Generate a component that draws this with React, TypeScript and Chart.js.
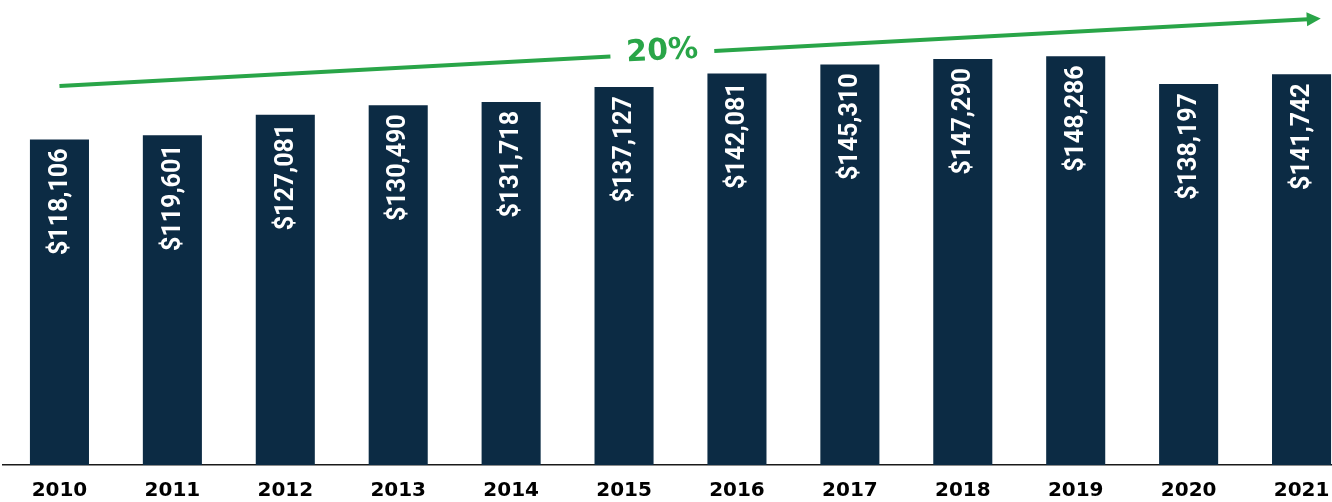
import React, { useEffect, useRef } from "react";
import { Chart, registerables } from "chart.js";

Chart.register(...registerables);

const categories = ["2010", "2011", "2012", "2013", "2014", "2015", "2016", "2017", "2018", "2019", "2020", "2021"];
const values = [118106, 119601, 127081, 130490, 131718, 137127, 142081, 145310, 147290, 148286, 138197, 141742];
const yTicks = [0, 160000];

// trend arrow, in data units: [category index, value]
const arrowStart = [0, 137500];
const arrowEnd = [11.17, 162000];
const arrowLabel = "20%";
const arrowLabelAt = 0.478;

const BAR = "#0c2b44";
const GREEN = "#29a548";
const LABEL_FONT = "bold 25px Roboto";
const AXIS_FONT_FAMILY = "'DejaVu Sans'";

const fmt = (v: number) => "$" + v.toLocaleString("en-US");

const valueLabels = {
  id: "valueLabels",
  afterDatasetsDraw(chart: any) {
    const ctx = chart.ctx;
    const meta = chart.getDatasetMeta(0);
    ctx.save();
    ctx.fillStyle = "#ffffff";
    ctx.font = LABEL_FONT;
    ctx.textAlign = "right";
    ctx.textBaseline = "middle";
    meta.data.forEach((bar: any, i: number) => {
      ctx.save();
      ctx.translate(bar.x + 1, bar.y + 9);
      ctx.rotate(-Math.PI / 2);
      ctx.fillText(fmt(values[i]), 0, 0);
      ctx.restore();
    });
    ctx.restore();
  },
};

const trendArrow = {
  id: "trendArrow",
  afterDatasetsDraw(chart: any) {
    const ctx = chart.ctx;
    const xs = chart.scales.x;
    const ys = chart.scales.y;
    const step = xs.getPixelForValue(1) - xs.getPixelForValue(0);
    const px = (idx: number) => xs.getPixelForValue(0) + idx * step;
    const x0 = px(arrowStart[0]);
    const y0 = ys.getPixelForValue(arrowStart[1]);
    const x1 = px(arrowEnd[0]);
    const y1 = ys.getPixelForValue(arrowEnd[1]);
    const ang = Math.atan2(y1 - y0, x1 - x0);
    const len = Math.hypot(x1 - x0, y1 - y0);
    const headLen = 14;
    const headHalf = 7;
    const labelPos = len * arrowLabelAt;
    const gapHalf = 52;

    ctx.save();
    ctx.translate(x0, y0);
    ctx.rotate(ang);
    ctx.strokeStyle = GREEN;
    ctx.fillStyle = GREEN;
    ctx.lineWidth = 4;
    ctx.beginPath();
    ctx.moveTo(0, 0);
    ctx.lineTo(labelPos - gapHalf, 0);
    ctx.moveTo(labelPos + gapHalf, 0);
    ctx.lineTo(len - headLen + 1, 0);
    ctx.stroke();
    ctx.beginPath();
    ctx.moveTo(len, 0);
    ctx.lineTo(len - headLen, -headHalf);
    ctx.lineTo(len - headLen, headHalf);
    ctx.closePath();
    ctx.fill();
    ctx.font = "bold 30px " + AXIS_FONT_FAMILY;
    ctx.textAlign = "center";
    ctx.textBaseline = "middle";
    ctx.fillText(arrowLabel, labelPos, -2);
    ctx.restore();
  },
};

export default function App() {
  const ref = useRef<HTMLCanvasElement | null>(null);
  useEffect(() => {
    if (!ref.current) return;
    const chart = new Chart(ref.current, {
      type: "bar",
      data: {
        labels: categories,
        datasets: [
          {
            data: values,
            backgroundColor: BAR,
            barPercentage: 0.523,
            categoryPercentage: 1,
          },
        ],
      },
      options: {
        animation: false,
        responsive: false,
        layout: { padding: { left: 3, right: 0, top: 24, bottom: 0 } },
        plugins: { legend: { display: false }, tooltip: { enabled: false } },
        scales: {
          x: {
            offset: true,
            grid: { display: false, drawTicks: false },
            border: { display: true, color: "#1a1a1a", width: 1.5 },
            ticks: {
              color: "#000000",
              padding: 14,
              font: { family: AXIS_FONT_FAMILY, weight: "bold", size: 20 },
            },
          },
          y: {
            display: false,
            min: yTicks[0],
            max: yTicks[1],
          },
        },
      },
      plugins: [valueLabels, trendArrow],
    });
    return () => chart.destroy();
  }, []);
  return (
    <div
      style={{
        position: "fixed",
        left: 0,
        top: 0,
        width: 1332,
        height: 502,
        overflow: "hidden",
        background: "#ffffff",
      }}
    >
      <canvas ref={ref} width={1358} height={517} style={{ width: 1358, height: 517, display: "block" }} />
    </div>
  );
}
